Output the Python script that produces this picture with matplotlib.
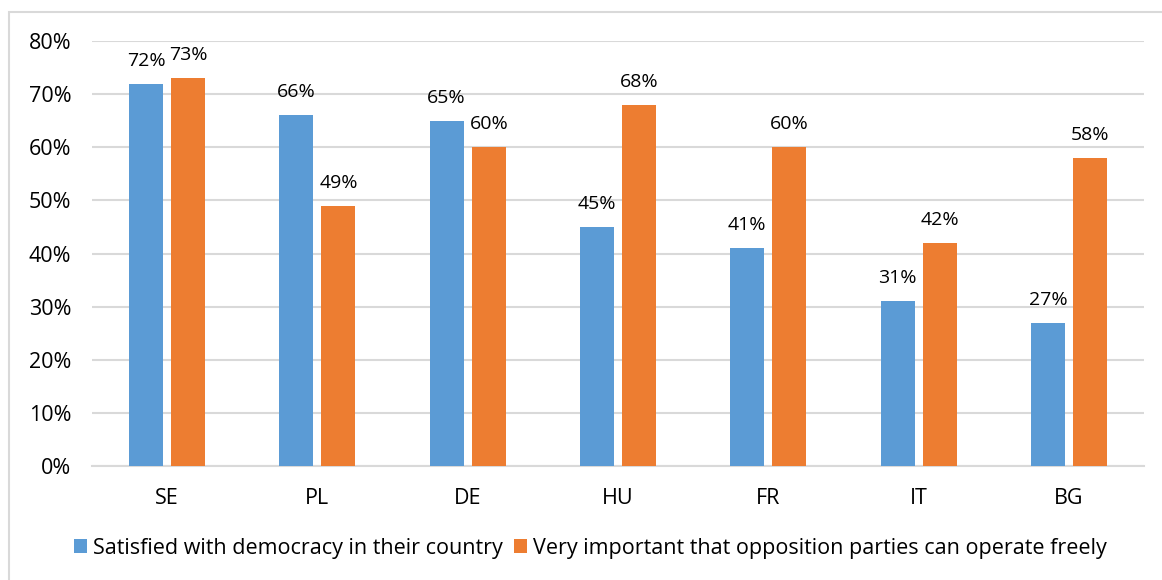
import matplotlib
matplotlib.use("Agg")
import matplotlib.pyplot as plt
import numpy as np
from matplotlib.patches import Rectangle

plt.rcParams['font.family'] = ['Open Sans', 'DejaVu Sans']

# data
countries = ['SE', 'PL', 'DE', 'HU', 'FR', 'IT', 'BG']
satisfied = [72, 66, 65, 45, 41, 31, 27]
opposition = [73, 49, 60, 68, 60, 42, 58]
series_names = ['Satisfied with democracy in their country',
                'Very important that opposition parties can operate freely']

blue = '#5B9BD5'
orange = '#ED7D31'
grid_col = '#D9D9D9'

fig = plt.figure(figsize=(11.62, 5.8), dpi=100)
fig.set_facecolor('white')

# chart frame (light grey border, cut at right and bottom)
fig.patches.append(Rectangle((9 / 1162, -0.05), 1.2, 1 - 12 / 580 + 0.05,
                             transform=fig.transFigure, fill=False,
                             edgecolor=grid_col, linewidth=1.5))

ax = fig.add_axes([92 / 1162, 1 - 466 / 580, (1144 - 92) / 1162, (466 - 41) / 580])

x = np.arange(len(countries))
w = 0.226
off = 0.14
r1 = ax.bar(x - off, satisfied, w, color=blue, label=series_names[0], zorder=3)
r2 = ax.bar(x + off, opposition, w, color=orange, label=series_names[1], zorder=3)

ax.set_xlim(-0.5, len(countries) - 0.5)
ax.set_ylim(0, 80)
ax.set_yticks(range(0, 81, 10))
ax.set_yticklabels(['{}%'.format(v) for v in range(0, 81, 10)], fontsize=15.5)
ax.set_xticks(x)
ax.set_xticklabels(countries, fontsize=15.5)
ax.tick_params(axis='both', length=0)
ax.tick_params(axis='x', pad=16)
ax.tick_params(axis='y', pad=15)

ax.yaxis.grid(True, color=grid_col, linewidth=1.5, zorder=0)
for s in ['top', 'right', 'left']:
    ax.spines[s].set_visible(False)
ax.spines['bottom'].set_color(grid_col)
ax.spines['bottom'].set_linewidth(1.5)


def autolabel(rects):
    for rect in rects:
        h = rect.get_height()
        ax.annotate('{}%'.format(h),
                    xy=(rect.get_x() + rect.get_width() / 2, h),
                    xytext=(0, 10), textcoords='offset points',
                    ha='center', va='bottom', fontsize=14)


autolabel(r1)
autolabel(r2)

fig.legend(loc='center', bbox_to_anchor=(0.508, 0.055), ncol=2, frameon=False,
           fontsize=15.5, handlelength=0.6, handleheight=0.6,
           handletextpad=0.3, columnspacing=0.5)

plt.savefig('out.png', dpi=100)
